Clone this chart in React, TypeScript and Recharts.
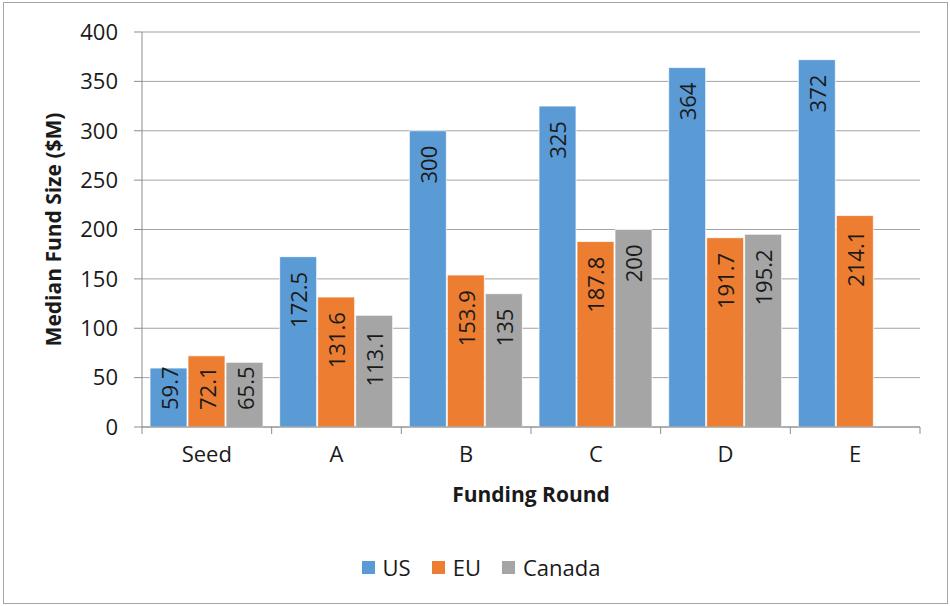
import React from 'react';
import { Bar, BarChart, CartesianGrid, LabelList, Legend, XAxis, YAxis } from 'recharts';

// values
const rounds = ['Seed', 'A', 'B', 'C', 'D', 'E'];
const usFunds = [59.7, 172.5, 300, 325, 364, 372];
const euFunds = [72.1, 131.6, 153.9, 187.8, 191.7, 214.1];
const canadaFunds = [65.5, 113.1, 135, 200, 195.2, null];
const yTicks = [0, 50, 100, 150, 200, 250, 300, 350, 400];
const seriesOrder = ['US', 'EU', 'Canada'];

const data = rounds.map((round, i) => ({
  round,
  US: usFunds[i],
  EU: euFunds[i],
  Canada: canadaFunds[i],
}));

const FONT = '"Open Sans", Calibri, sans-serif';
const TEXT = '#1a1a1a';
const AXIS = '#8c8c8c';
const GRID = '#a3a3a3';
const LABEL_SIZE = 22;

function textLength(s: string, size: number) {
  let w = 0;
  for (const ch of s) w += ch === '.' ? 0.27 : 0.572;
  return w * size;
}

// rotated value label, anchored near the bar top, pushed up when the bar is short
function ValueLabel(props: any) {
  const { x, y, width, height, value } = props;
  if (value == null) return null;
  const s = String(value);
  const len = textLength(s, LABEL_SIZE);
  const bottom = y + height;
  let start = y + 15 + len;
  if (start > bottom - 17) start = bottom - 17;
  const cx = x + width / 2;
  return (
    <text
      x={cx}
      y={start}
      transform={`rotate(-90, ${cx}, ${start})`}
      textAnchor="start"
      dominantBaseline="central"
      fontSize={LABEL_SIZE}
      fill={TEXT}
      fontFamily={FONT}
    >
      {s}
    </text>
  );
}

// category name plus tick marks on the band edges
function RoundTick(props: any) {
  const { x, y, payload, index, visibleTicksCount, width } = props;
  const count = visibleTicksCount || rounds.length;
  const band = (Number(width) || 778) / count;
  const left = x - band / 2;
  return (
    <g>
      <line x1={left} x2={left} y1={y} y2={y + 7} stroke={AXIS} />
      {index === count - 1 && <line x1={x + band / 2} x2={x + band / 2} y1={y} y2={y + 7} stroke={AXIS} />}
      <text x={x} y={y + 35} textAnchor="middle" fontSize={22} fill={TEXT} fontFamily={FONT}>
        {payload.value}
      </text>
    </g>
  );
}

function LegendContent(props: any) {
  const items = [...(props.payload || [])].sort(
    (a: any, b: any) => seriesOrder.indexOf(a.value) - seriesOrder.indexOf(b.value)
  );
  return (
    <div style={{ display: 'flex', justifyContent: 'center', alignItems: 'center', height: 30, fontSize: 22, color: TEXT, fontFamily: FONT }}>
      {items.map((item: any, i: number) => (
        <div key={item.value} style={{ display: 'flex', alignItems: 'center', marginLeft: i === 0 ? 0 : 21 }}>
          <span style={{ display: 'inline-block', width: 13, height: 13, background: item.color, marginRight: 8 }} />
          <span>{item.value}</span>
        </div>
      ))}
    </div>
  );
}

export default function App() {
  return (
    <div style={{ position: 'absolute', left: 0, top: 0, width: 950, height: 606, background: '#fff', fontFamily: FONT }}>
      <div style={{ position: 'absolute', left: 3, top: 2, width: 943, height: 600, border: '1px solid #a6a6a6' }} />
      <BarChart
        width={950}
        height={606}
        data={data}
        margin={{ top: 32, right: 30, left: 0, bottom: 24 }}
        barCategoryGap={8}
        barGap={1}
      >
        <CartesianGrid vertical={false} stroke={GRID} />
        <XAxis
          dataKey="round"
          height={125}
          axisLine={{ stroke: AXIS }}
          tickLine={false}
          tickSize={0}
          tickMargin={0}
          interval={0}
          tick={<RoundTick />}
          label={{
            content: ({ viewBox }: any) => (
              <text
                x={viewBox.x + viewBox.width / 2}
                y={viewBox.y + 75}
                textAnchor="middle"
                fontSize={21}
                fontWeight="bold"
                fill={TEXT}
                fontFamily={FONT}
              >
                Funding Round
              </text>
            ),
          }}
        />
        <YAxis
          width={142}
          domain={[0, 400]}
          ticks={yTicks}
          interval={0}
          axisLine={{ stroke: AXIS }}
          tickLine={{ stroke: AXIS }}
          tickSize={8}
          tickMargin={16}
          tick={{ fontSize: 22, fill: TEXT, fontFamily: FONT }}
          label={{
            content: ({ viewBox }: any) => {
              const cx = 53;
              const cy = viewBox.y + viewBox.height / 2;
              return (
                <text
                  x={cx}
                  y={cy}
                  transform={`rotate(-90, ${cx}, ${cy})`}
                  textAnchor="middle"
                  dominantBaseline="central"
                  fontSize={21}
                  fontWeight="bold"
                  fill={TEXT}
                  fontFamily={FONT}
                >
                  Median Fund Size ($M)
                </text>
              );
            },
          }}
        />
        <Legend
          verticalAlign="bottom"
          content={<LegendContent />}
          wrapperStyle={{ left: 12, width: 938 }}
        />
        <Bar dataKey="US" fill="#5b9bd5" stroke="#fff" strokeWidth={0.75} isAnimationActive={false}>
          <LabelList dataKey="US" content={<ValueLabel />} />
        </Bar>
        <Bar dataKey="EU" fill="#ed7d31" stroke="#fff" strokeWidth={0.75} isAnimationActive={false}>
          <LabelList dataKey="EU" content={<ValueLabel />} />
        </Bar>
        <Bar dataKey="Canada" fill="#a5a5a5" stroke="#fff" strokeWidth={0.75} isAnimationActive={false}>
          <LabelList dataKey="Canada" content={<ValueLabel />} />
        </Bar>
      </BarChart>
    </div>
  );
}
